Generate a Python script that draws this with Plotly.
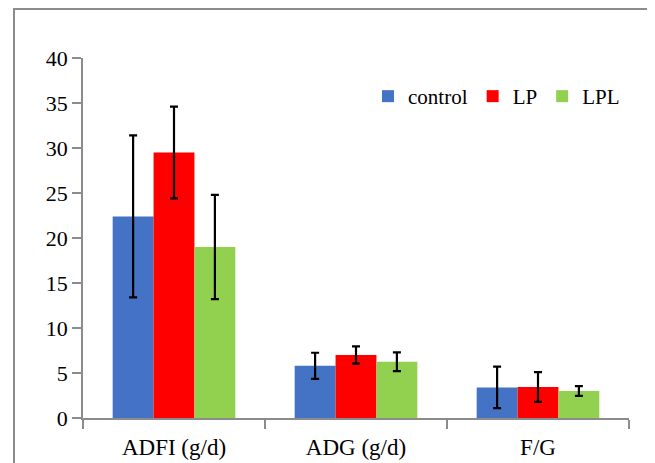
import plotly.graph_objects as go

categories = ["ADFI (g/d)", "ADG (g/d)", "F/G"]
series_names = ["control", "LP", "LPL"]
control_vals = [22.4, 5.8, 3.4]
control_err = [9.0, 1.45, 2.3]
lp_vals = [29.5, 7.0, 3.45]
lp_err = [5.1, 0.95, 1.65]
lpl_vals = [19.0, 6.25, 3.0]
lpl_err = [5.8, 1.05, 0.55]
y_ticks = [0, 5, 10, 15, 20, 25, 30, 35, 40]

colors = ["#4472C4", "#FF0000", "#92D050"]
FONT = "Liberation Serif"

fig = go.Figure()
for name, vals, errs, col in zip(series_names, [control_vals, lp_vals, lpl_vals],
                                 [control_err, lp_err, lpl_err], colors):
    fig.add_trace(go.Bar(
        x=categories, y=vals, name=name,
        marker=dict(color=col, line=dict(width=0)),
        error_y=dict(type="data", array=errs, visible=True,
                     color="black", thickness=2.2, width=4),
    ))

OFF = 8  # page body margin
W, H = 655 - 2 * OFF, 463 - OFF
L, T = 83 - OFF, 58 - OFF
R = W - (629 - OFF)
B = H - (418 - OFF)
pw, ph = W - L - R, H - T - B

fig.update_layout(
    width=W, height=H,
    margin=dict(l=L, r=R, t=T, b=B, pad=0, autoexpand=False),
    paper_bgcolor="white", plot_bgcolor="white",
    barmode="group", bargap=0.326, bargroupgap=0,
    font=dict(family=FONT, color="black", size=21),
    showlegend=True,
    legend=dict(orientation="h", x=(368 - 83) / pw, y=(418 - 76) / ph,
                xanchor="left", yanchor="top",
                font=dict(family=FONT, size=21, color="black"),
                bgcolor="rgba(0,0,0,0)", itemwidth=30, traceorder="normal"),
    xaxis=dict(showline=True, linecolor="#8c8c8c", linewidth=1.6,
               ticks="outside", tickson="boundaries", ticklen=9,
               tickcolor="#8c8c8c", tickwidth=1.6, automargin=False,
               ticklabelstandoff=8,
               tickfont=dict(family=FONT, size=23, color="black"),
               showgrid=False, zeroline=False),
    yaxis=dict(range=[0, 40], tickvals=y_ticks, showline=True,
               linecolor="#8c8c8c", linewidth=1.6, ticks="outside",
               ticklen=9, tickcolor="#8c8c8c", tickwidth=1.6, automargin=False,
               tickfont=dict(family=FONT, size=22, color="black"),
               showgrid=False, zeroline=False),
    shapes=[dict(type="rect", xref="paper", yref="paper",
                 x0=(14 - 83) / pw, x1=1.3, y0=-0.4, y1=(418 - 9) / ph,
                 line=dict(color="#8c8c8c", width=2), fillcolor="rgba(0,0,0,0)",
                 layer="below")],
)

fig.write_html("out.html")
